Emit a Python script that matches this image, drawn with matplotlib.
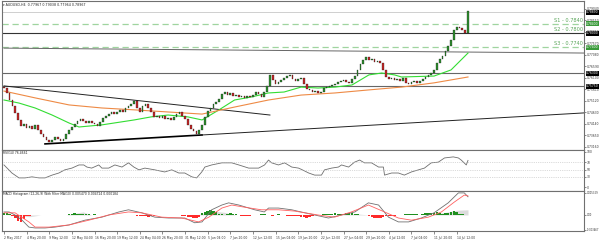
import numpy as np
import matplotlib.pyplot as plt

## data #######################################################################
# closes, one every 8 hours (2 H4 bars), 2 May - 14 Jul 2017
first_open = 0.7572
closes = [0.7567, 0.7546, 0.7516, 0.7490, 0.7461, 0.7431, 0.7405, 0.7414, 0.7397, 0.7405,
          0.7392, 0.7410, 0.7388, 0.7371, 0.7358, 0.7346, 0.7337, 0.7346, 0.7358, 0.7350,
          0.7341, 0.7350, 0.7371, 0.7388, 0.7401, 0.7414, 0.7427, 0.7435, 0.7427, 0.7418,
          0.7427, 0.7418, 0.7414, 0.7405, 0.7422, 0.7439, 0.7448, 0.7456, 0.7465, 0.7456,
          0.7465, 0.7474, 0.7465, 0.7482, 0.7490, 0.7499, 0.7512, 0.7482, 0.7465, 0.7490,
          0.7499, 0.7482, 0.7465, 0.7444, 0.7448, 0.7439, 0.7448, 0.7435, 0.7439, 0.7431,
          0.7444, 0.7456, 0.7465, 0.7448, 0.7435, 0.7410, 0.7392, 0.7384, 0.7371, 0.7388,
          0.7410, 0.7444, 0.7469, 0.7482, 0.7499, 0.7508, 0.7520, 0.7542, 0.7550, 0.7537,
          0.7546, 0.7533, 0.7537, 0.7529, 0.7533, 0.7525, 0.7533, 0.7529, 0.7537, 0.7550,
          0.7542, 0.7529, 0.7550, 0.7576, 0.7623, 0.7601, 0.7584, 0.7593, 0.7601, 0.7610,
          0.7618, 0.7623, 0.7606, 0.7597, 0.7606, 0.7610, 0.7584, 0.7563, 0.7559, 0.7550,
          0.7555, 0.7546, 0.7550, 0.7567, 0.7572, 0.7576, 0.7580, 0.7584, 0.7593, 0.7597,
          0.7601, 0.7593, 0.7589, 0.7606, 0.7618, 0.7644, 0.7669, 0.7687, 0.7699, 0.7687,
          0.7691, 0.7678, 0.7682, 0.7674, 0.7644, 0.7614, 0.7606, 0.7610, 0.7601, 0.7606,
          0.7597, 0.7610, 0.7589, 0.7584, 0.7593, 0.7597, 0.7589, 0.7597, 0.7606, 0.7614,
          0.7623, 0.7631, 0.7644, 0.7674, 0.7691, 0.7704, 0.7725, 0.7746, 0.7772, 0.7814,
          0.7827, 0.7823, 0.7814, 0.7801, 0.7897]

# moving averages (green fast, orange slow)
green_x = [0, 5.3, 11, 17, 23, 26.5, 34.6, 46, 52, 58, 65, 70, 76, 81.5, 87.5, 93.5,
           99, 105, 111, 117, 123, 129, 133.5, 138, 140.5, 152, 158, 164]
green_v = [0.7516, 0.7503, 0.7482, 0.7452, 0.7418, 0.7401, 0.7410, 0.7431, 0.7444,
           0.7452, 0.7444, 0.7431, 0.7474, 0.7516, 0.7529, 0.7546, 0.7550, 0.7571,
           0.7567, 0.7571, 0.7580, 0.7623, 0.7631, 0.7623, 0.7614, 0.7618, 0.7644, 0.7716]
orange_x = [0, 11, 23, 34.6, 46, 58, 70, 81.5, 93.5, 105, 117, 129, 140.5, 152, 164]
orange_v = [0.7554, 0.7525, 0.7495, 0.7482, 0.7474, 0.7465, 0.7456, 0.7486, 0.7516,
            0.7537, 0.7546, 0.7559, 0.7571, 0.7589, 0.7614]

# drawn objects
s_levels = [0.7840, 0.7800, 0.7740]
s_names = ['S1 - 0.7840', 'S2 - 0.7800', 'S3 - 0.7740']
hlines_dark = [0.7630, 0.7575]
bid_level = 0.7889
trend_down_x, trend_down_y = [0, 94], [0.7576, 0.7452]
trend_up_x, trend_up_y = [14.5, 70, 205], [0.7329, 0.7367, 0.7461]
trend_flat_x, trend_flat_y = [0, 205], [0.7737, 0.7716]
price_ticks = [0.73160, 0.73650, 0.74140, 0.74630, 0.75120, 0.75610, 0.76100,
               0.76590, 0.77080, 0.77570, 0.78060, 0.78550, 0.79040]

# RSI(14)
rsi_x = [0, 1.1, 2.8, 5.3, 7.4, 9.9, 12.4, 14.5, 17, 19.4, 21.5, 24, 26.5, 28.2, 29.3,
         31, 33.5, 34.6, 37, 39.2, 41.7, 44, 45.9, 47.7, 49.8, 53.3, 56.8, 59.3, 61.8,
         63.9, 66.4, 68.1, 69.9, 71, 73.4, 77, 80.5, 83, 86.5, 90, 92.1, 93.5, 94.6, 97,
         99.2, 101.7, 104.1, 105.2, 107.7, 109.8, 112.2, 113.3, 115.8, 118.2, 119.3,
         121.8, 123.9, 125.7, 127.4, 129.9, 132.4, 134.1, 134.5, 137, 139.4, 141.5, 144,
         146.5, 148.6, 151, 153.5, 155.7, 158.8, 160.6, 161.6, 163.4, 164]
rsi_v = [63, 54, 40, 26, 26, 29, 26, 26, 34, 40, 49, 54, 63, 63, 57, 54, 63, 54, 54, 63,
         57, 69, 57, 49, 54, 49, 43, 49, 40, 40, 29, 26, 43, 57, 63, 69, 69, 63, 54, 54,
         63, 77, 69, 63, 69, 57, 54, 50, 40, 34, 34, 49, 54, 57, 63, 57, 71, 77, 69, 69,
         57, 57, 34, 40, 40, 34, 43, 49, 54, 69, 71, 83, 86, 83, 77, 63, 76]

# MACD (values x 1e-4)
macd_x = [0, 1.8, 3.9, 6.4, 8.8, 11, 14.5, 18, 23, 28.6, 34.6, 40.6, 44, 48.7, 53.3, 58.2,
          63.9, 67.4, 70, 73.4, 77, 79.4, 83, 88.6, 92, 93.5, 97, 101.7, 105, 109.8,
          114.7, 119.3, 124, 128.8, 132.4, 135.9, 139.4, 143, 147.5, 152, 157, 160.6,
          162.7, 164]
macd_v = [7, 7, 0, -12, -28, -30, -30, -28, -23, -12, -5, 7, 12, 5, -5, -7, -7, -18, -16,
          12, 23, 28, 23, 12, 7, 16, 16, 12, 7, 0, -7, 0, 7, 28, 23, -5, -16, -16, -7, 5,
          28, 51, 51, 42]
sig_x = [0, 3.9, 8.8, 11, 15.9, 23, 30, 37, 44, 48.7, 55.8, 62.8, 68.8, 72.4, 77, 80.5,
         85, 91, 97, 102.7, 111, 116.8, 122.8, 128.8, 134.5, 139.4, 144, 150, 154.6,
         159.2, 162.7, 164]
sig_v = [5, 5, -16, -28, -28, -23, -12, 0, 7, 5, -5, -7, -16, -5, 16, 23, 18, 12, 12, 9,
         0, -5, 7, 23, 7, -7, -12, -5, 7, 30, 46, 44]
hist = [5, 4, 2, -3, -8, -14, -16, -10, -3, -2, -1, 0, 0, 0, 0, 0, 0, 0, 0, 0, 0, 0, 0,
        2, 3, 4, 3, 2, 2, 3, 2, 1, 2, 1, 0, 0, 1, 1, 0, 0, -1, 0, 0, 0, 0, 0,
        -1, -2, -3, -2, -3, -4, -3, -2, -1, 0, 0, 0, 0, 0, 0, 0, -1, -2, -3, -4,
        -5, -7, -6, -4, 4, 8, 10, 11, 9, 6, 3, 2, 1, 3, 4, 3, 2, -1, -2, -2, -3, -2, -1, 0,
        1, 2, 3, 1, -1, -2, 1, 2, 0, 0, -2, -3, -3, -2, -3, -4, -5, -6, -4, -2, -1, 0, 0,
        2, 3, 2, 3, 4, 3, 2, 3, 4, 5, 4, 3, 2, 1, 0, -1, -2, -4, -6, -8, -7, -5, -3,
        -2, -3, -2, -1, 0, 1, 2, 2, 3, 2, 2, 1, 3, 4, 5, 4, 5, 6, 4, 3, 4, 5, 8, 10, 7,
        3, 2, 1, 0]
filt_x = [0, 6, 9, 13, 22, 25, 28, 31, 68, 71, 74, 78, 82, 118, 124, 129, 132, 150, 156, 160, 164]
filt_v = [0, -2, -4, 0, 0, 4, 7, 0, 0, 5, 9, 6, 0, 0, 3, 0, 0, 0, 6, 11, 12]

date_labels = ['2 May 2017', '4 May 20:00', '9 May 12:00', '12 May 04:00', '16 May 20:00',
               '19 May 12:00', '24 May 04:00', '26 May 20:00', '31 May 12:00', '5 Jun 04:00',
               '7 Jun 20:00', '12 Jun 12:00', '15 Jun 04:00', '19 Jun 20:00', '22 Jun 12:00',
               '27 Jun 04:00', '29 Jun 20:00', '4 Jul 12:00', '7 Jul 04:00', '11 Jul 20:00',
               '14 Jul 12:00']

## layout #####################################################################
W, H = 600., 241.
def box(x0, y0, x1, y1):
    return [x0/W, 1 - y1/H, (x1 - x0)/W, (y1 - y0)/H]

fig = plt.figure(figsize=(6, 2.41), dpi=100, facecolor='white')
axP = fig.add_axes(box(2, 1, 584, 150))
axR = fig.add_axes(box(2, 150, 584, 191), sharex=axP)
axM = fig.add_axes(box(2, 191, 584, 231), sharex=axP)

frame = '#707070'
for ax in (axP, axR, axM):
    for s in ax.spines.values():
        s.set_color(frame)
        s.set_linewidth(0.8)
    ax.yaxis.tick_right()
    ax.tick_params(axis='y', labelsize=2.2, length=1.5, width=0.4, pad=0.6,
                   colors='#333333')
    ax.set_facecolor('white')
axP.set_xlim(-0.7, 205)

## price panel ################################################################
closes = np.array(closes)
opens = np.r_[first_open, closes[:-1]]
idx = np.arange(len(closes))
up = closes >= opens
dn = ~up
axP.bar(idx[up], closes[up] - opens[up], bottom=opens[up], width=0.6,
        color='#2f8f2f', edgecolor='#111111', linewidth=0.2, zorder=4)
axP.bar(idx[dn], closes[dn] - opens[dn], bottom=opens[dn], width=0.6,
        color='#c62828', edgecolor='#111111', linewidth=0.2, zorder=4)

axP.plot(green_x, green_v, color='#33dd33', lw=0.8, zorder=3)
axP.plot(orange_x, orange_v, color='#ee8a45', lw=0.8, zorder=3)

# horizontal levels
axP.axhline(bid_level, color='#c8c8c8', lw=0.6, zorder=1)
axP.axhline(s_levels[0], color='#9fd49f', lw=0.9, ls=(0, (5, 3)), zorder=2)
axP.axhline(s_levels[1], color='#333333', lw=0.8, zorder=2)
axP.axhline(s_levels[2], color='#9fd49f', lw=0.9, ls=(0, (5, 3)), zorder=2)
for lv in hlines_dark:
    axP.axhline(lv, color='#666666', lw=0.8, zorder=2)
for lv, nm in zip(s_levels, s_names):
    axP.text(0.998, lv + 0.0004, nm, transform=axP.get_yaxis_transform(),
             ha='right', va='bottom', fontsize=3.6, color='#5aa55a')

# trend lines
axP.plot(trend_flat_x, trend_flat_y, color='#666666', lw=0.7, zorder=2)
axP.plot(trend_down_x, trend_down_y, color='#222222', lw=0.7, zorder=2)
axP.plot(trend_up_x[:2], trend_up_y[:2], color='black', lw=1.2, zorder=2)
axP.plot(trend_up_x[1:], trend_up_y[1:], color='#222222', lw=0.7, zorder=2)

axP.set_ylim(0.73030, 0.79377)
axP.set_yticks(price_ticks)
axP.set_yticklabels(['%.5f' % v for v in price_ticks])

# boxed price labels on the scale
ytr = axP.get_yaxis_transform()
boxed = [(bid_level, 'black'), (s_levels[0], '#3a9a3a'), (s_levels[1], 'black'),
         (s_levels[2], '#3a9a3a'), (hlines_dark[0], 'black'), (hlines_dark[1], 'black')]
for lv, c in boxed:
    axP.text(1.0035, lv, '%.5f' % lv, transform=ytr, ha='left', va='center',
             fontsize=2.2, color='white', clip_on=False, zorder=6,
             bbox=dict(boxstyle='square,pad=0.15', fc=c, ec='none'))

axP.text(0.0017, 0.973, '\u25be AUDUSD,H4  0.77967 0.79038 0.77964 0.78967',
         transform=axP.transAxes, fontsize=2.3, va='center', color='#222222')

## RSI panel ##################################################################
axR.plot(rsi_x, rsi_v, color='#6e6e6e', lw=0.6)
for lv in (70, 50, 30):
    axR.axhline(lv, color='#b8b8b8', lw=0.5, ls=':')
axR.set_ylim(-11.4, 105.7)
axR.set_yticks([0, 30, 50, 70, 100])
axR.set_yticklabels(['0', '30', '50', '70', '100'])
axR.text(0.0017, 0.93, 'RSI(14) 76.4661', transform=axR.transAxes,
         fontsize=2.2, va='center', color='#222222')

## MACD panel #################################################################
hist = np.array(hist)
hx = np.arange(len(hist))
axM.fill_between(filt_x, filt_v, 0, color='#dcdcdc', lw=0, zorder=1)
axM.bar(hx[hist > 0], hist[hist > 0], width=0.9, color='#1f8f1f', zorder=2)
axM.bar(hx[hist < 0], hist[hist < 0], width=0.9, color='#ff2a2a', zorder=2)
axM.plot(macd_x, macd_v, color='#707070', lw=0.6, zorder=3)
axM.plot(sig_x, sig_v, color='#ff6060', lw=0.6, zorder=3)
axM.set_ylim(-37, 55.4)
axM.set_yticks([-34.67, 0, 51.5])
axM.set_yticklabels(['-0.003467', '0.00', '0.005329'])
axM.tick_params(axis='y', labelsize=1.8, pad=0.4)
axM.text(0.0017, 0.93, 'MACD Histogram (12,26,9) With Filter MA(10) 0.005470 0.004724 0.000184',
         transform=axM.transAxes, fontsize=2.2, va='center', color='#222222')

## x axis #####################################################################
for ax in (axP, axR):
    ax.tick_params(axis='x', bottom=False, labelbottom=False)
axM.set_xticks(np.arange(len(date_labels)) * 8)
axM.set_xticklabels(date_labels, ha='left')
axM.tick_params(axis='x', labelsize=2.2, length=2, width=0.4, pad=1.5,
                colors='#333333')

plt.savefig('out.png', dpi=100, facecolor='white')
